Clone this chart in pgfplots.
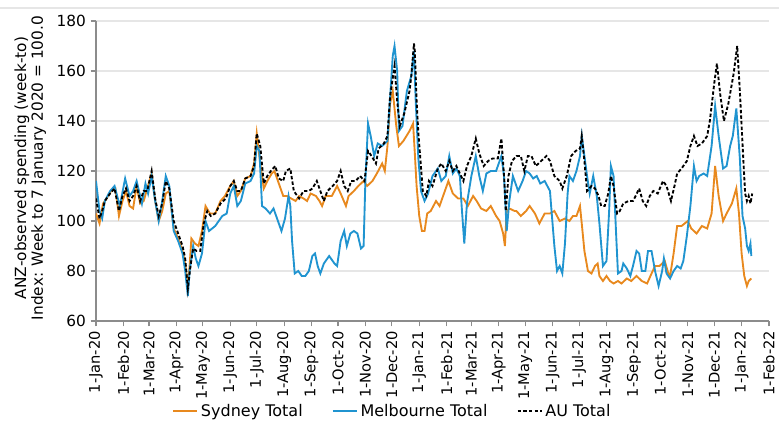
\documentclass[border=0pt]{standalone}
\usepackage{fontspec}
\setmainfont{DejaVu Sans}
\usepackage{pgfplots}
\usepackage{pgfplotstable}
\pgfplotsset{compat=1.18}
\definecolor{syd}{RGB}{232,137,30}
\definecolor{mel}{RGB}{32,148,208}
\definecolor{gridc}{RGB}{230,230,230}
\definecolor{axc}{RGB}{140,140,140}

% day 0 = 1-Jan-2020
\pgfplotstableread{
d v
0 116
4 104
7 101
10 108
16 112
21 114
27 106
33 117
38 110
42 112
46 116
52 107
56 115
59 111
63 118
67 108
71 100
75 108
79 118
83 114
88 96
93 92
98 87
101 80
104 70
106 80
110 90
113 85
116 82
120 87
124 100
128 96
135 98
143 102
148 103
152 111
156 114
160 106
164 108
169 115
175 116
179 119
182 130
185 128
188 106
192 105
197 103
201 105
205 101
210 96
214 101
218 110
220 106
222 92
225 79
229 80
233 78
237 78
241 80
245 86
248 87
251 82
254 79
258 83
264 86
270 83
273 82
277 92
281 96
284 90
288 95
292 96
296 95
300 89
303 90
305 116
308 139
311 134
315 126
319 131
324 130
330 132
332 144
336 166
338 170
341 160
343 136
347 138
352 152
357 158
360 168
362 148
365 125
368 112
372 108
376 111
381 118
387 121
391 116
396 118
400 126
404 119
408 121
412 118
414 106
417 91
420 107
425 118
430 126
434 118
438 112
442 119
447 120
453 120
459 126
462 118
465 96
468 108
472 118
478 112
483 116
487 120
491 119
495 117
499 118
503 115
508 116
514 112
516 103
519 90
522 80
525 82
528 79
531 91
534 111
536 118
540 116
544 120
548 126
550 134
553 126
556 118
559 111
563 118
567 110
570 99
574 82
578 84
581 104
583 122
586 118
589 94
591 79
595 80
597 83
601 81
605 78
608 82
612 88
615 87
618 80
622 80
625 88
629 88
633 80
637 74
641 80
643 85
646 79
650 77
654 80
658 82
662 81
665 84
669 94
673 106
677 122
680 116
683 118
688 119
692 118
697 130
701 146
705 134
710 121
714 122
718 130
721 134
725 145
729 125
732 102
735 97
737 90
739 88
741 91
742 86
}\mel

\pgfplotstableread{
d v
0 103
4 99
8 107
12 109
17 112
22 113
26 102
30 108
34 112
38 106
42 105
46 114
50 107
54 108
58 113
63 119
67 108
71 100
75 104
79 111
83 112
88 97
93 93
98 88
101 83
104 74
106 82
108 93
112 91
116 90
120 96
124 106
129 103
135 103
141 108
146 110
152 114
156 116
160 110
164 112
169 117
175 118
179 123
182 135
186 123
190 113
194 116
199 119
202 120
207 115
212 110
216 110
221 109
226 108
230 110
235 109
239 108
243 111
249 110
253 108
256 106
260 110
267 110
273 114
277 111
283 106
286 110
292 112
297 114
303 116
307 114
313 116
318 119
324 123
327 120
330 130
333 147
336 152
340 138
343 130
348 132
355 136
359 139
361 127
363 114
366 102
369 96
372 96
375 103
379 104
385 108
389 106
394 111
399 116
404 111
410 109
416 109
421 106
427 110
431 108
436 105
442 104
447 106
453 102
457 100
461 95
463 90
465 104
468 105
474 104
476 104
481 102
487 104
491 106
497 103
502 99
508 103
514 103
519 104
525 100
531 101
536 100
540 102
544 102
548 106
550 99
553 88
557 80
561 79
565 82
568 83
570 78
574 76
578 78
582 76
586 75
591 76
595 75
601 77
606 76
612 78
618 76
624 75
629 79
633 82
638 82
644 84
648 79
650 78
654 87
658 98
663 98
670 100
674 97
680 95
686 98
692 97
697 103
701 122
705 110
710 100
714 103
720 107
725 113
728 103
731 87
734 78
737 74
739 76
742 77
}\syd

\pgfplotstableread{
d v
0 109
4 101
7 104
10 108
16 111
21 113
26 104
30 110
34 113
38 108
42 110
46 114
50 108
54 112
58 112
63 120
67 109
71 102
75 107
79 116
83 113
88 100
93 95
98 90
101 85
104 73
107 82
110 89
114 88
118 88
122 99
126 104
130 102
135 103
141 107
147 109
152 114
156 116
160 112
164 112
169 117
175 118
179 122
182 135
186 130
190 115
194 118
198 120
203 122
207 117
212 116
215 120
220 121
224 112
230 109
235 112
241 112
245 113
250 116
254 112
258 108
262 112
268 114
273 116
277 120
281 114
285 112
289 116
294 116
299 118
304 116
308 128
312 126
317 123
320 129
326 131
330 134
333 150
338 162
341 148
344 138
349 143
355 152
357 158
360 171
361 168
363 148
365 135
367 126
370 112
374 110
377 116
381 114
387 121
391 123
396 120
400 124
404 120
408 122
412 119
416 116
420 122
425 126
430 133
434 127
439 122
444 124
449 125
455 125
459 133
462 118
464 104
467 118
471 124
476 126
481 126
485 120
489 126
493 126
498 122
504 124
510 126
514 124
519 118
525 116
528 113
533 118
538 126
543 128
548 129
550 134
553 124
556 112
561 114
565 113
569 110
572 106
576 106
580 111
583 118
586 114
590 103
593 104
597 107
603 108
608 108
611 110
615 113
619 108
623 106
627 110
631 112
636 111
642 116
646 114
651 108
655 114
658 119
663 121
669 124
673 130
677 134
681 130
686 131
692 134
695 140
700 155
703 163
707 150
711 140
716 147
720 155
722 159
726 170
729 152
731 138
733 124
735 111
737 108
739 110
741 107
743 111
}\aus

\begin{document}
\begin{tikzpicture}
\begin{axis}[
  at={(0pt,0pt)}, anchor=south west,
  scale only axis, width=504.75pt, height=225pt,
  xmin=0, xmax=762, ymin=60, ymax=180,
  axis x line*=bottom, axis y line*=left,
  axis line style={axc, line width=1pt, -},
  tick align=outside, major tick length=4pt,
  tick style={axc, line width=0.8pt},
  ytick={60,80,100,120,140,160,180},
  ymajorgrids, grid style={gridc, line width=1.3pt},
  xtick={0,31,60,91,121,152,182,213,244,274,305,335,366,397,425,456,486,517,547,578,609,639,670,700,731,762},
  xticklabels={1-Jan-20,1-Feb-20,1-Mar-20,1-Apr-20,1-May-20,1-Jun-20,1-Jul-20,1-Aug-20,1-Sep-20,1-Oct-20,1-Nov-20,1-Dec-20,1-Jan-21,1-Feb-21,1-Mar-21,1-Apr-21,1-May-21,1-Jun-21,1-Jul-21,1-Aug-21,1-Sep-21,1-Oct-21,1-Nov-21,1-Dec-21,1-Jan-22,1-Feb-22},
  xticklabel style={rotate=90, anchor=east, font=\fontsize{11}{13}\selectfont},
  yticklabel style={font=\fontsize{11.5}{13}\selectfont},
  /pgf/number format/assume math mode=true,
  ylabel={ANZ-observed spending (week-to)\\Index: Week to 7 January 2020 = 100.0},
  ylabel style={align=center, font=\fontsize{11.5}{12.5}\selectfont, at={(rel axis cs:0,0.51)}, anchor=south, yshift=34pt},
  legend columns=3,
  legend style={at={(0.441,-0.30)}, anchor=center, draw=none, fill=none,
    font=\fontsize{12}{14}\selectfont,
    /tikz/every even column/.append style={column sep=20pt}},
  legend image code/.code={\draw[#1] (0pt,0pt) -- (18pt,0pt);},
]
\addplot[syd, line width=1.4pt] table[x=d,y=v] {\syd};
\addlegendentry{Sydney Total}
\addplot[mel, line width=1.4pt] table[x=d,y=v] {\mel};
\addlegendentry{Melbourne Total}
\addplot[black, line width=1.4pt, dash pattern=on 2.6pt off 1.6pt] table[x=d,y=v] {\aus};
\addlegendentry{AU Total}
\end{axis}
\pgfresetboundingbox
\path[use as bounding box] (-72pt,-75pt) rectangle (512.25pt,240.75pt);
\draw[gridc, line width=1.5pt] (-72pt,234.75pt) -- (512.25pt,234.75pt);
\end{tikzpicture}
\end{document}
